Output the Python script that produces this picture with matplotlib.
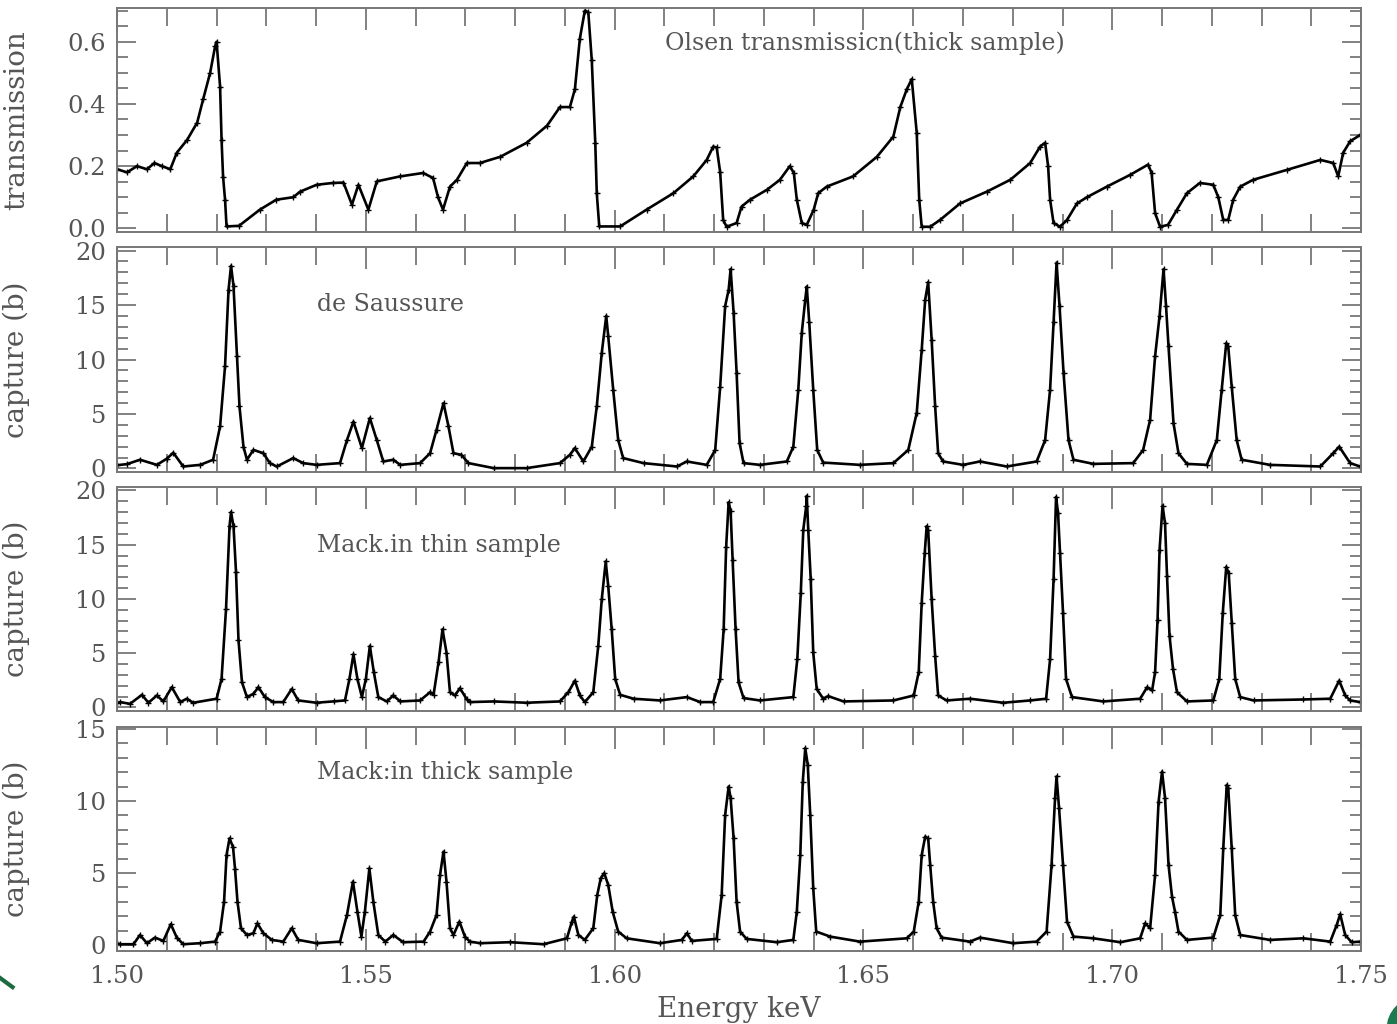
import matplotlib
matplotlib.use('Agg')
import matplotlib.pyplot as plt
from matplotlib.ticker import MultipleLocator, FormatStrFormatter
from matplotlib.patches import Ellipse

plt.rcParams['font.family'] = ['DejaVu Serif']

# Olsen transmission (thick sample)
trans_e = [1.5000, 1.5020, 1.5040, 1.5060, 1.5075, 1.5090, 1.5107, 1.5120, 1.5141, 1.5161,
           1.5173, 1.5187, 1.5197, 1.5200, 1.5207, 1.5210, 1.5213, 1.5217, 1.5220, 1.5245,
           1.5287, 1.5320, 1.5354, 1.5368, 1.5401, 1.5434, 1.5455, 1.5472, 1.5485, 1.5505,
           1.5522, 1.5569, 1.5615, 1.5635, 1.5645, 1.5655, 1.5669, 1.5683, 1.5703, 1.5729,
           1.5770, 1.5823, 1.5864, 1.5890, 1.5910, 1.5920, 1.5930, 1.5940, 1.5947, 1.5954,
           1.5961, 1.5964, 1.5969, 1.6011, 1.6064, 1.6118, 1.6158, 1.6185, 1.6198, 1.6205,
           1.6212, 1.6218, 1.6225, 1.6245, 1.6255, 1.6272, 1.6306, 1.6332, 1.6352, 1.6360,
           1.6366, 1.6376, 1.6386, 1.6400, 1.6409, 1.6426, 1.6479, 1.6527, 1.6560, 1.6574,
           1.6587, 1.6597, 1.6607, 1.6612, 1.6617, 1.6634, 1.6654, 1.6694, 1.6748, 1.6795,
           1.6835, 1.6855, 1.6865, 1.6871, 1.6875, 1.6882, 1.6895, 1.6909, 1.6929, 1.6949,
           1.6989, 1.7036, 1.7072, 1.7079, 1.7086, 1.7096, 1.7112, 1.7130, 1.7150, 1.7176,
           1.7203, 1.7213, 1.7223, 1.7233, 1.7243, 1.7257, 1.7283, 1.7351, 1.7418, 1.7444,
           1.7454, 1.7464, 1.7478, 1.7498]
trans_y = [0.19, 0.18, 0.20, 0.19, 0.21, 0.20, 0.19, 0.243, 0.285, 0.34,
           0.415, 0.50, 0.585, 0.60, 0.456, 0.285, 0.166, 0.092, 0.006, 0.008,
           0.06, 0.092, 0.10, 0.118, 0.14, 0.146, 0.147, 0.076, 0.14, 0.06,
           0.151, 0.167, 0.178, 0.162, 0.10, 0.06, 0.134, 0.156, 0.21, 0.21,
           0.23, 0.275, 0.33, 0.39, 0.39, 0.447, 0.61, 0.70, 0.695, 0.54,
           0.275, 0.113, 0.006, 0.006, 0.06, 0.113, 0.167, 0.22, 0.263, 0.26,
           0.18, 0.027, 0.005, 0.017, 0.07, 0.092, 0.124, 0.156, 0.20, 0.178,
           0.092, 0.017, 0.011, 0.06, 0.113, 0.134, 0.167, 0.23, 0.295, 0.39,
           0.447, 0.48, 0.307, 0.092, 0.005, 0.005, 0.027, 0.08, 0.118, 0.156,
           0.21, 0.263, 0.275, 0.20, 0.092, 0.017, 0.005, 0.027, 0.08, 0.10,
           0.134, 0.172, 0.205, 0.178, 0.049, 0.005, 0.011, 0.06, 0.113, 0.146,
           0.14, 0.10, 0.027, 0.027, 0.092, 0.134, 0.156, 0.188, 0.22, 0.21,
           0.167, 0.243, 0.28, 0.30]

# de Saussure capture
saus_e = [1.5000, 1.5020, 1.5046, 1.5080, 1.5100, 1.5113, 1.5133, 1.5167, 1.5193, 1.5207,
          1.5217, 1.5224, 1.5229, 1.5234, 1.5241, 1.5246, 1.5254, 1.5261, 1.5274, 1.5294,
          1.5307, 1.5321, 1.5354, 1.5374, 1.5401, 1.5448, 1.5462, 1.5475, 1.5492, 1.5508,
          1.5522, 1.5535, 1.5555, 1.5569, 1.5609, 1.5629, 1.5642, 1.5656, 1.5666, 1.5676,
          1.5692, 1.5706, 1.5757, 1.5823, 1.5890, 1.5910, 1.5920, 1.5937, 1.5954, 1.5964,
          1.5974, 1.5983, 1.5987, 1.5997, 1.6007, 1.6017, 1.6058, 1.6125, 1.6145, 1.6185,
          1.6202, 1.6212, 1.6222, 1.6229, 1.6233, 1.6239, 1.6245, 1.6251, 1.6259, 1.6292,
          1.6346, 1.6359, 1.6369, 1.6376, 1.6383, 1.6386, 1.6391, 1.6399, 1.6407, 1.6419,
          1.6493, 1.6560, 1.6590, 1.6607, 1.6617, 1.6624, 1.6630, 1.6637, 1.6644, 1.6650,
          1.6660, 1.6700, 1.6734, 1.6788, 1.6848, 1.6865, 1.6875, 1.6882, 1.6888, 1.6894,
          1.6902, 1.6912, 1.6922, 1.6962, 1.7042, 1.7062, 1.7076, 1.7086, 1.7095, 1.7103,
          1.7108, 1.7113, 1.7123, 1.7133, 1.7150, 1.7190, 1.7210, 1.7220, 1.7229, 1.7233,
          1.7240, 1.7250, 1.7260, 1.7317, 1.7418, 1.7444, 1.7456, 1.7478, 1.7498]
saus_y = [0.3, 0.4, 0.8, 0.33, 0.9, 1.44, 0.18, 0.33, 0.8, 3.86,
          9.4, 16.4, 18.6, 16.75, 10.3, 5.7, 2.0, 0.8, 1.7, 1.4,
          0.49, 0.18, 0.95, 0.49, 0.33, 0.49, 2.6, 4.3, 1.87, 4.63,
          2.6, 0.64, 0.8, 0.33, 0.49, 1.4, 3.55, 6.0, 3.86, 1.4,
          1.25, 0.49, 0.03, 0.03, 0.49, 1.25, 1.87, 0.64, 2.0, 5.7,
          10.6, 14.0, 12.15, 7.24, 2.63, 0.95, 0.49, 0.18, 0.64, 0.33,
          1.7, 7.5, 14.9, 16.4, 18.3, 14.3, 8.8, 2.33, 0.49, 0.33,
          0.64, 2.0, 7.24, 12.46, 15.5, 16.7, 13.4, 7.24, 1.7, 0.54,
          0.33, 0.49, 1.7, 5.1, 10.9, 15.5, 17.1, 11.8, 5.7, 1.4,
          0.64, 0.33, 0.64, 0.18, 0.64, 2.6, 7.24, 13.4, 18.9, 14.9,
          8.8, 2.6, 0.8, 0.42, 0.49, 1.7, 4.47, 10.3, 14.0, 18.3,
          14.9, 11.2, 4.16, 1.4, 0.42, 0.33, 2.6, 7.24, 11.5, 11.2,
          7.5, 2.6, 0.8, 0.33, 0.18, 1.4, 2.0, 0.49, 0.18]

# Macklin thin sample capture
thin_e = [1.5000, 1.5006, 1.5026, 1.5050, 1.5063, 1.5080, 1.5093, 1.5110, 1.5127, 1.5140,
          1.5153, 1.5200, 1.5210, 1.5219, 1.5226, 1.5229, 1.5234, 1.5239, 1.5244, 1.5251,
          1.5261, 1.5274, 1.5284, 1.5297, 1.5314, 1.5334, 1.5351, 1.5364, 1.5401, 1.5435,
          1.5458, 1.5467, 1.5475, 1.5483, 1.5492, 1.5500, 1.5508, 1.5516, 1.5525, 1.5542,
          1.5555, 1.5569, 1.5609, 1.5629, 1.5636, 1.5646, 1.5654, 1.5662, 1.5669, 1.5679,
          1.5689, 1.5703, 1.5709, 1.5757, 1.5823, 1.5890, 1.5907, 1.5920, 1.5930, 1.5940,
          1.5957, 1.5967, 1.5974, 1.5982, 1.5987, 1.5994, 1.6001, 1.6011, 1.6038, 1.6091,
          1.6145, 1.6172, 1.6198, 1.6212, 1.6219, 1.6224, 1.6229, 1.6233, 1.6237, 1.6243,
          1.6249, 1.6259, 1.6292, 1.6359, 1.6367, 1.6374, 1.6379, 1.6385, 1.6386, 1.6389,
          1.6394, 1.6399, 1.6406, 1.6419, 1.6429, 1.6460, 1.6560, 1.6601, 1.6611, 1.6617,
          1.6623, 1.6627, 1.6630, 1.6637, 1.6644, 1.6650, 1.6667, 1.6714, 1.6781, 1.6835,
          1.6867, 1.6875, 1.6882, 1.6887, 1.6891, 1.6895, 1.6901, 1.6907, 1.6919, 1.6982,
          1.7056, 1.7070, 1.7080, 1.7086, 1.7091, 1.7095, 1.7101, 1.7106, 1.7110, 1.7115,
          1.7122, 1.7130, 1.7150, 1.7203, 1.7215, 1.7222, 1.7229, 1.7234, 1.7240, 1.7247,
          1.7257, 1.7284, 1.7384, 1.7438, 1.7456, 1.7468, 1.7478, 1.7498]
thin_y = [0.4, 0.49, 0.33, 1.16, 0.43, 1.1, 0.55, 1.86, 0.49, 0.8,
          0.43, 0.8, 2.63, 9.1, 16.7, 18.0, 16.7, 12.5, 6.2, 2.32,
          0.95, 1.25, 1.86, 0.95, 0.49, 0.49, 1.7, 0.64, 0.43, 0.55,
          0.64, 2.63, 4.9, 2.63, 0.95, 2.63, 5.67, 3.24, 0.95, 0.55,
          1.1, 0.55, 0.64, 1.4, 1.16, 4.15, 7.2, 5.06, 1.4, 1.1,
          1.77, 0.73, 0.49, 0.55, 0.43, 0.55, 1.4, 2.47, 1.1, 0.49,
          1.4, 5.67, 9.95, 13.45, 11.2, 7.2, 2.63, 1.16, 0.8, 0.64,
          0.95, 0.49, 0.49, 2.63, 7.2, 14.8, 18.9, 18.1, 13.6, 7.2,
          2.3, 0.86, 0.64, 0.95, 4.45, 10.55, 16.35, 18.6, 19.5, 16.35,
          11.8, 5.07, 1.7, 0.8, 1.04, 0.55, 0.64, 1.1, 3.25, 9.65,
          14.2, 16.7, 16.35, 9.95, 4.75, 1.1, 0.64, 0.8, 0.43, 0.64,
          0.8, 4.45, 11.8, 19.4, 17.9, 14.2, 8.7, 2.63, 0.95, 0.55,
          0.8, 1.86, 1.56, 3.25, 8.1, 14.5, 18.6, 16.95, 12.1, 6.6,
          3.55, 1.4, 0.55, 0.64, 2.63, 8.7, 12.95, 12.35, 7.8, 2.63,
          0.95, 0.64, 0.73, 0.8, 2.47, 1.1, 0.64, 0.49]

# Macklin thick sample capture
thick_e = [1.5000, 1.5006, 1.5033, 1.5046, 1.5060, 1.5076, 1.5093, 1.5108, 1.5120, 1.5133,
           1.5167, 1.5197, 1.5207, 1.5215, 1.5220, 1.5226, 1.5233, 1.5237, 1.5242, 1.5249,
           1.5261, 1.5274, 1.5282, 1.5294, 1.5311, 1.5334, 1.5351, 1.5364, 1.5401, 1.5448,
           1.5462, 1.5474, 1.5483, 1.5491, 1.5498, 1.5507, 1.5515, 1.5525, 1.5539, 1.5555,
           1.5575, 1.5616, 1.5629, 1.5642, 1.5649, 1.5656, 1.5662, 1.5669, 1.5676, 1.5688,
           1.5699, 1.5709, 1.5730, 1.5790, 1.5857, 1.5904, 1.5914, 1.5918, 1.5927, 1.5940,
           1.5957, 1.5965, 1.5972, 1.5979, 1.5987, 1.5996, 1.6007, 1.6024, 1.6091, 1.6135,
           1.6145, 1.6155, 1.6205, 1.6215, 1.6222, 1.6229, 1.6233, 1.6239, 1.6245, 1.6252,
           1.6265, 1.6326, 1.6359, 1.6366, 1.6373, 1.6378, 1.6383, 1.6388, 1.6393, 1.6399,
           1.6405, 1.6433, 1.6493, 1.6587, 1.6601, 1.6611, 1.6617, 1.6624, 1.6630, 1.6634,
           1.6640, 1.6647, 1.6657, 1.6714, 1.6734, 1.6801, 1.6848, 1.6868, 1.6878, 1.6885,
           1.6888, 1.6893, 1.6901, 1.6909, 1.6922, 1.6962, 1.7016, 1.7056, 1.7066, 1.7076,
           1.7086, 1.7093, 1.7100, 1.7106, 1.7113, 1.7120, 1.7126, 1.7133, 1.7150, 1.7203,
           1.7217, 1.7223, 1.7230, 1.7233, 1.7240, 1.7247, 1.7257, 1.7317, 1.7384, 1.7438,
           1.7451, 1.7458, 1.7468, 1.7481, 1.7498]
thick_y = [0.1, 0.05, 0.05, 0.69, 0.12, 0.51, 0.28, 1.44, 0.51, 0.05,
           0.12, 0.23, 0.93, 3.0, 6.25, 7.4, 6.8, 5.3, 3.0, 1.16,
           0.69, 0.81, 1.5, 0.81, 0.35, 0.23, 1.16, 0.35, 0.12, 0.23,
           2.08, 4.4, 2.31, 0.58, 2.31, 5.32, 3.0, 0.69, 0.23, 0.69,
           0.19, 0.23, 0.93, 2.08, 4.86, 6.48, 4.4, 1.16, 0.69, 1.62,
           0.58, 0.23, 0.12, 0.19, 0.05, 0.46, 1.62, 1.97, 0.69, 0.35,
           1.16, 3.47, 4.63, 4.98, 4.17, 2.31, 0.93, 0.46, 0.12, 0.35,
           0.81, 0.28, 0.42, 3.47, 9.03, 11.0, 10.2, 7.4, 3.0, 0.93,
           0.42, 0.19, 0.35, 2.31, 6.25, 11.34, 13.66, 12.5, 9.03, 3.94,
           0.93, 0.58, 0.23, 0.46, 0.93, 3.0, 6.25, 7.52, 7.4, 5.56,
           3.0, 1.16, 0.51, 0.23, 0.51, 0.12, 0.23, 0.93, 5.56, 10.2,
           11.7, 9.5, 5.56, 1.62, 0.58, 0.46, 0.19, 0.46, 1.5, 1.16,
           4.86, 9.95, 12.04, 10.2, 5.56, 3.36, 2.31, 0.93, 0.35, 0.51,
           2.08, 6.71, 11.11, 10.9, 6.71, 2.08, 0.69, 0.35, 0.46, 0.23,
           1.39, 2.13, 0.69, 0.19, 0.23]

x_ticks = [1.50, 1.55, 1.60, 1.65, 1.70, 1.75]

text_color = '#555555'
axis_color = '#777777'

fig = plt.figure(figsize=(13.97, 10.24), dpi=100)

left, width = 0.0838, 0.8905
boxes = [
    [left, 0.7734, width, 0.2192],
    [left, 0.5388, width, 0.2197],
    [left, 0.3060, width, 0.2188],
    [left, 0.0713, width, 0.2190],
]


def style_axis(ax, ylim, ymajor, yminor, yfmt, ylabel, show_x):
    ax.set_xlim(1.50, 1.75)
    ax.set_ylim(*ylim)
    ax.xaxis.set_major_locator(MultipleLocator(0.05))
    ax.xaxis.set_minor_locator(MultipleLocator(0.01))
    ax.yaxis.set_major_locator(MultipleLocator(ymajor))
    ax.yaxis.set_minor_locator(MultipleLocator(yminor))
    ax.yaxis.set_major_formatter(FormatStrFormatter(yfmt))
    ax.xaxis.set_major_formatter(FormatStrFormatter('%.2f'))
    for s in ax.spines.values():
        s.set_color(axis_color)
        s.set_linewidth(1.4)
    ax.tick_params(which='both', direction='in', top=True, right=True,
                   color=axis_color, width=1.3, labelcolor=text_color,
                   labelsize=17.5)
    ax.tick_params(axis='x', which='major', length=16, pad=10)
    ax.tick_params(axis='x', which='minor', length=13)
    ax.tick_params(axis='y', which='major', length=14, pad=8)
    ax.tick_params(axis='y', which='minor', length=8)
    if not show_x:
        ax.tick_params(axis='x', which='both', labelbottom=False)
    ax.set_ylabel(ylabel, fontsize=20, color=text_color)
    ax.yaxis.set_label_coords(-0.07, 0.5)


def draw(ax, e, y):
    ax.plot(e, y, color='black', linewidth=1.9, marker='+', markersize=5,
            markeredgewidth=1.0)


ax1 = fig.add_axes(boxes[0])
draw(ax1, trans_e, trans_y)
style_axis(ax1, (-0.012, 0.71), 0.2, 0.05, '%.1f', 'transmission', False)
ax1.text(1.6101, 0.595, 'Olsen transmissicn(thick sample)', fontsize=17,
         color=text_color, va='center')

ax2 = fig.add_axes(boxes[1])
draw(ax2, saus_e, saus_y)
style_axis(ax2, (-0.35, 20.3), 5, 1, '%d', 'capture (b)', False)
ax2.text(1.5402, 15.06, 'de Saussure', fontsize=17, color=text_color, va='center')

ax3 = fig.add_axes(boxes[2])
draw(ax3, thin_e, thin_y)
style_axis(ax3, (-0.3, 20.35), 5, 1, '%d', 'capture (b)', False)
ax3.text(1.5402, 14.96, 'Mack.in thin sample', fontsize=17, color=text_color, va='center')

ax4 = fig.add_axes(boxes[3])
draw(ax4, thick_e, thick_y)
style_axis(ax4, (-0.42, 15.15), 5, 1, '%d', 'capture (b)', True)
ax4.set_xticks(x_ticks)
ax4.text(1.5402, 11.94, 'Mack:in thick sample', fontsize=17, color=text_color, va='center')
ax4.set_xlabel('Energy keV', fontsize=20, color=text_color, labelpad=6)

# slide decorations at the bottom corners
fig.add_artist(Ellipse((1.0155, -0.005), 0.045, 0.062, transform=fig.transFigure,
                       color='#1b7a4e', zorder=5))
fig.add_artist(plt.Line2D([0.0, 0.009], [0.045, 0.036], transform=fig.transFigure,
                          color='#1b6b40', linewidth=3))

fig.savefig('out.png', dpi=100)
